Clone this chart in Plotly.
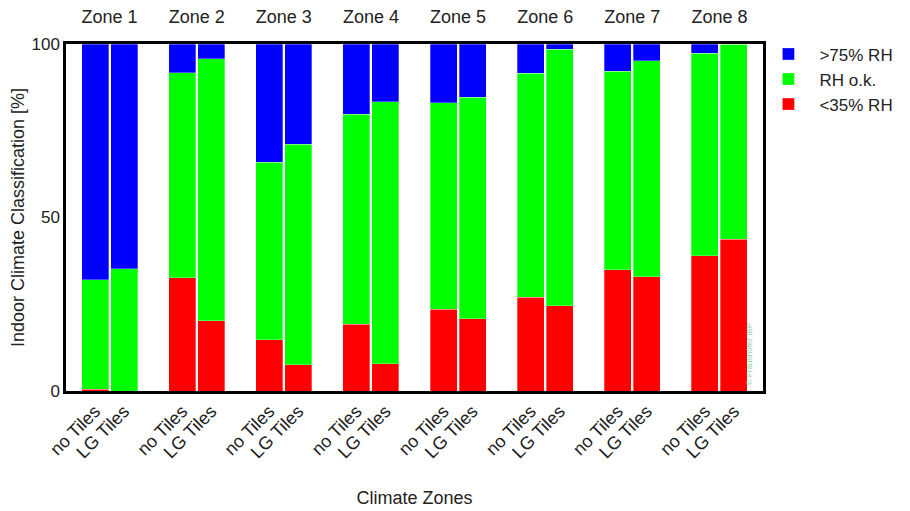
import plotly.graph_objects as go

zones = ["Zone 1", "Zone 2", "Zone 3", "Zone 4", "Zone 5", "Zone 6", "Zone 7", "Zone 8"]
variants = ["no Tiles", "LG Tiles"]

# values per bar, order: zone1-no, zone1-LG, zone2-no, ...
low_rh = [0.5, 0.0, 32.7, 20.3, 14.8, 7.5, 19.2, 7.8, 23.6, 20.8, 27.0, 24.5, 35.0, 32.9, 39.0, 43.7]
rh_ok = [31.5, 35.2, 59.0, 75.4, 51.1, 63.6, 60.5, 75.5, 59.4, 63.9, 64.6, 74.0, 57.1, 62.3, 58.4, 56.3]
high_rh = [68.0, 64.8, 8.3, 4.3, 34.1, 28.9, 20.3, 16.7, 17.0, 15.3, 8.4, 1.5, 7.9, 4.8, 2.6, 0.0]

series_names = ["<35% RH", "RH o.k.", ">75% RH"]
series_colors = ["#ff0000", "#00ff00", "#0000ff"]

offset = 0.167
xs = []
labels = []
for i, z in enumerate(zones):
    for j, v in enumerate(variants):
        xs.append(i + 0.5 + (offset if j else -offset))
        labels.append(v)
zone_centers = [i + 0.5 for i in range(len(zones))]

fig = go.Figure()
for name, vals, col in zip(series_names, [low_rh, rh_ok, high_rh], series_colors):
    fig.add_trace(go.Bar(
        x=xs, y=vals, name=name, width=0.31,
        marker=dict(color=col, line=dict(color="rgba(255,255,255,0.5)", width=0.6)),
    ))

font_family = "Liberation Sans, Arial, sans-serif"
txt = "#222"
fig.update_layout(
    barmode="stack",
    width=910, height=511,
    margin=dict(l=58, r=155, t=36, b=128, autoexpand=False),
    paper_bgcolor="white", plot_bgcolor="white",
    font=dict(family=font_family, size=17, color=txt),
    showlegend=True,
    legend=dict(x=0.992, y=1.022, xanchor="left", yanchor="top", traceorder="reversed",
                font=dict(size=17, color=txt), itemwidth=52, tracegroupgap=0,
                bgcolor="rgba(0,0,0,0)"),
    xaxis=dict(range=[0, 8], tickvals=xs, ticktext=labels, tickangle=-45, automargin=False,
               showgrid=False, zeroline=False, showline=True, linecolor="black",
               linewidth=2.5, mirror=True, ticks="", tickfont=dict(size=18, color=txt),
               title=dict(text="Climate Zones", font=dict(size=18, color=txt), standoff=31)),
    xaxis2=dict(range=[0, 8], overlaying="x", side="top", tickvals=zone_centers, automargin=False,
                ticktext=zones, showgrid=False, zeroline=False, showline=False, ticks="",
                tickfont=dict(size=18, color=txt), ticklabelstandoff=16),
    yaxis=dict(range=[0, 100], tickvals=[0, 50, 100], showgrid=False, zeroline=False, automargin=False,
               showline=True, linecolor="black", linewidth=2.5, mirror=True, ticks="",
               tickfont=dict(size=17, color=txt),
               title=dict(text="Indoor Climate Classification [%]", font=dict(size=18, color=txt), standoff=24)),
)
# invisible trace so the top zone axis is drawn
fig.add_trace(go.Scatter(x=zone_centers, y=[None] * len(zones), xaxis="x2", showlegend=False,
                         hoverinfo="skip", mode="markers", marker=dict(opacity=0)))

fig.add_annotation(text="© Fraunhofer IBP", xref="paper", yref="paper", x=0.981, y=0.01,
                   xanchor="center", yanchor="bottom", textangle=-90, showarrow=False,
                   font=dict(size=8, color="#7fd6a6", family=font_family))

fig.write_html("out.html")
